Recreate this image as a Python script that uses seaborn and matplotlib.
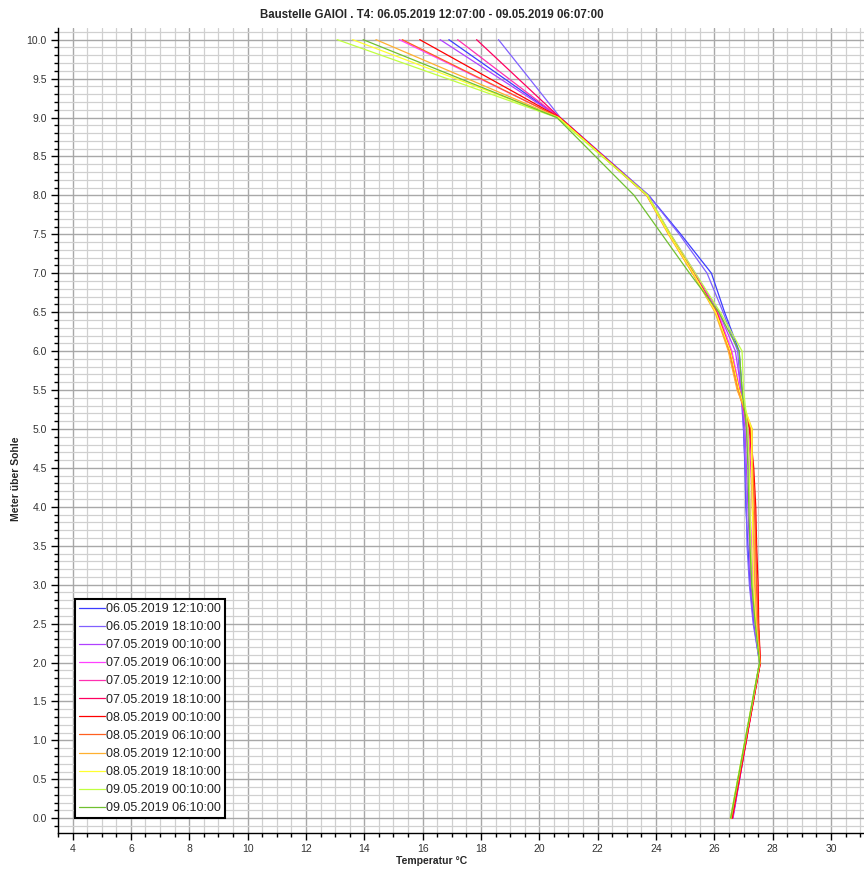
import matplotlib
matplotlib.use("Agg")
import matplotlib.pyplot as plt
from matplotlib.ticker import MultipleLocator, FormatStrFormatter
import seaborn as sns
import pandas as pd

# Messhöhen (m über Sohle)
hoehen = [0.0, 2.0, 2.5, 3.0, 3.5, 4.0, 4.5, 5.0, 5.5, 6.0, 6.5, 7.0, 7.5, 8.0, 9.0, 10.0]

zeiten = [
    "06.05.2019 12:10:00", "06.05.2019 18:10:00", "07.05.2019 00:10:00",
    "07.05.2019 06:10:00", "07.05.2019 12:10:00", "07.05.2019 18:10:00",
    "08.05.2019 00:10:00", "08.05.2019 06:10:00", "08.05.2019 12:10:00",
    "08.05.2019 18:10:00", "09.05.2019 00:10:00", "09.05.2019 06:10:00",
]

farben = [
    "#3c3cff", "#8060ff", "#b040ff", "#ff40ff", "#ff30b0", "#ff0060",
    "#ff0000", "#ff6020", "#ffb030", "#ffff30", "#c0ff40", "#70c030",
]

# Temperaturprofile je Zeitpunkt (°C), gleiche Reihenfolge wie hoehen
t_0612 = [26.62, 27.55, 27.35, 27.22, 27.15, 27.08, 27.05, 27.00, 26.95, 26.85, 26.35, 25.90, 24.85, 23.75, 20.70, 16.90]
t_0618 = [26.64, 27.55, 27.33, 27.20, 27.12, 27.10, 27.06, 27.00, 26.90, 26.80, 26.30, 25.75, 24.80, 23.75, 20.72, 18.60]
t_0700 = [26.63, 27.55, 27.38, 27.25, 27.20, 27.15, 27.10, 27.05, 26.92, 26.72, 26.15, 25.35, 24.50, 23.72, 20.70, 16.60]
t_0706 = [26.62, 27.56, 27.42, 27.32, 27.28, 27.22, 27.18, 27.10, 26.88, 26.60, 26.12, 25.30, 24.48, 23.70, 20.70, 15.20]
t_0712 = [26.62, 27.57, 27.45, 27.38, 27.35, 27.30, 27.25, 27.15, 26.85, 26.55, 26.10, 25.30, 24.48, 23.70, 20.70, 17.20]
t_0718 = [26.62, 27.58, 27.50, 27.45, 27.42, 27.38, 27.30, 27.20, 26.85, 26.55, 26.08, 25.30, 24.45, 23.70, 20.70, 17.85]
t_0800 = [26.60, 27.58, 27.52, 27.50, 27.45, 27.42, 27.35, 27.22, 26.85, 26.55, 26.05, 25.28, 24.45, 23.70, 20.70, 15.90]
t_0806 = [26.58, 27.57, 27.50, 27.45, 27.42, 27.38, 27.32, 27.25, 26.80, 26.50, 26.05, 25.25, 24.45, 23.68, 20.68, 15.30]
t_0812 = [26.57, 27.56, 27.45, 27.40, 27.38, 27.33, 27.30, 27.30, 26.78, 26.48, 26.02, 25.25, 24.42, 23.68, 20.65, 14.40]
t_0818 = [26.55, 27.55, 27.42, 27.35, 27.32, 27.30, 27.28, 27.28, 26.85, 26.55, 26.05, 25.28, 24.45, 23.70, 20.65, 13.60]
t_0900 = [26.55, 27.55, 27.40, 27.30, 27.25, 27.22, 27.20, 27.15, 27.00, 26.95, 26.20, 25.35, 24.50, 23.72, 20.60, 13.07]
t_0906 = [26.56, 27.55, 27.40, 27.28, 27.22, 27.18, 27.15, 27.10, 26.95, 26.85, 26.15, 25.15, 24.20, 23.25, 20.60, 13.96]

profile = [t_0612, t_0618, t_0700, t_0706, t_0712, t_0718,
           t_0800, t_0806, t_0812, t_0818, t_0900, t_0906]

rows = []
for zeit, temps in zip(zeiten, profile):
    for h, t in zip(hoehen, temps):
        rows.append({"zeit": zeit, "hoehe": h, "temp": t})
df = pd.DataFrame(rows)

sns.set_style("white")
plt.rcParams["font.family"] = ["Liberation Sans", "DejaVu Sans"]

fig = plt.figure(figsize=(8.64, 8.74), dpi=100)
ax = fig.add_axes([0.0671, 0.0469, 0.9329, 0.9211])

sns.lineplot(data=df, x="temp", y="hoehe", hue="zeit", hue_order=zeiten,
             palette=farben, sort=False, estimator=None, linewidth=0.9, ax=ax)

ax.set_xlim(3.5, 31.13)
ax.set_ylim(-0.19, 10.15)

ax.xaxis.set_major_locator(MultipleLocator(2))
ax.xaxis.set_minor_locator(MultipleLocator(0.5))
ax.yaxis.set_major_locator(MultipleLocator(0.5))
ax.yaxis.set_minor_locator(MultipleLocator(0.1))
ax.yaxis.set_major_formatter(FormatStrFormatter("%.1f"))

ax.grid(which="minor", color="#d0d0d0", linewidth=0.9)
ax.grid(which="major", color="#a8a8a8", linewidth=1.0)
ax.set_axisbelow(True)

for s in ["top", "right"]:
    ax.spines[s].set_visible(False)
for s in ["left", "bottom"]:
    ax.spines[s].set_color("black")
    ax.spines[s].set_linewidth(1.0)

ax.tick_params(which="both", direction="out", color="black", width=1.0,
               left=True, bottom=True)
ax.tick_params(which="major", length=5, labelsize=7.5, pad=3, labelcolor="#333333")
ax.tick_params(which="minor", length=3)

ax.set_xlabel("Temperatur °C", fontsize=7.5, fontweight="bold")
ax.xaxis.set_label_coords(0.464, -0.028)
ax.set_ylabel("Meter über Sohle", fontsize=7.5, fontweight="bold")
ax.yaxis.set_label_coords(-0.046, 0.44)
ax.set_title("Baustelle GAIOI . T4: 06.05.2019 12:07:00 - 09.05.2019 06:07:00",
             fontsize=8.3, fontweight="bold", pad=7, x=0.464, fontstretch="condensed")

leg = ax.legend(loc="lower left", bbox_to_anchor=(0.021, 0.0186), borderaxespad=0,
                fontsize=9, frameon=True, fancybox=False, framealpha=1,
                edgecolor="black", labelspacing=0.49, handlelength=2.1,
                handletextpad=0.1, borderpad=0.3, title=None)
leg.get_frame().set_linewidth(1.5)
for txt in leg.get_texts():
    txt.set_color("#222222")

fig.savefig("out.png", dpi=100, facecolor="white")
